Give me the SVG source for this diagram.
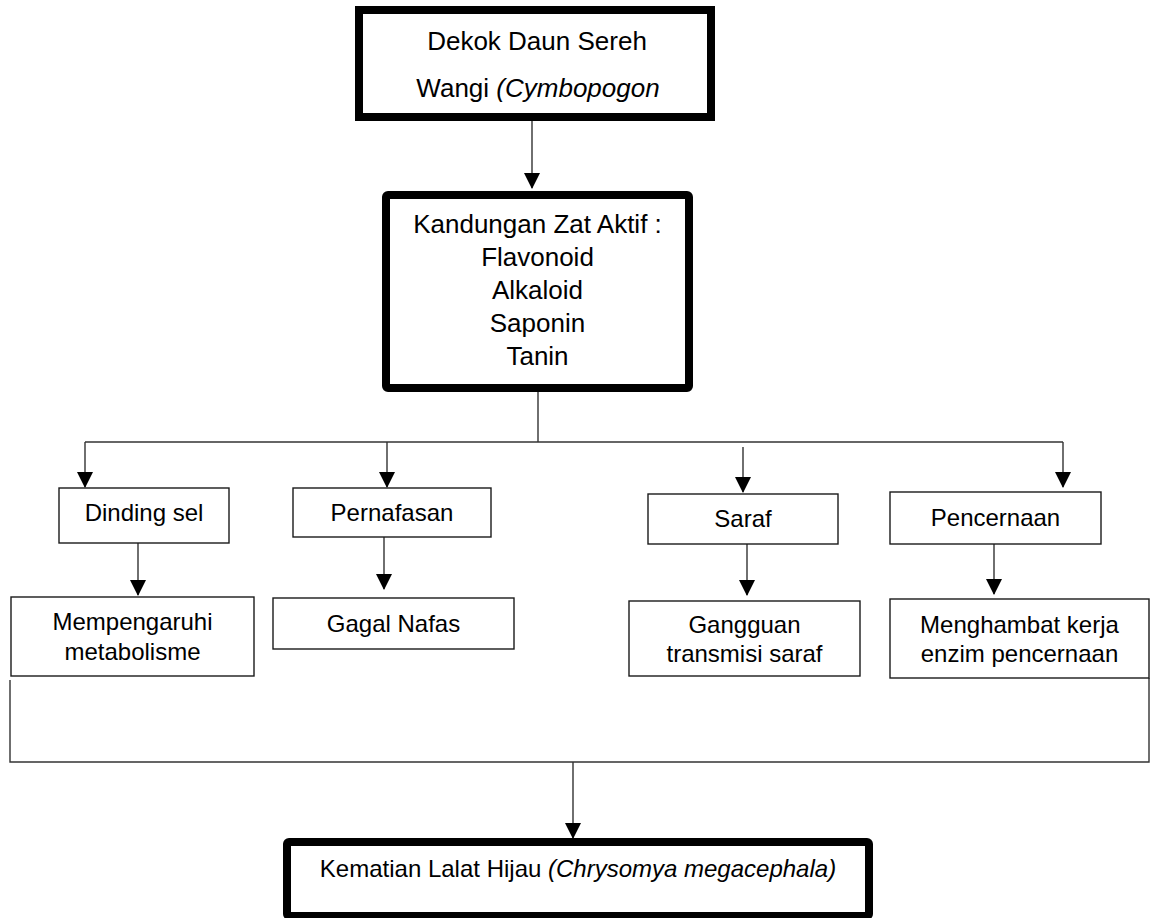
<svg xmlns="http://www.w3.org/2000/svg" width="1152" height="918" viewBox="0 0 1152 918">
<style>
.bg{fill:#fff}
.thick{fill:#fff;stroke:#000;stroke-width:8}
.thin{fill:#fff;stroke:#1a1a1a;stroke-width:1.4}
.c{fill:none;stroke:#333;stroke-width:1.4}
text{font-family:"Liberation Sans",Arial,sans-serif;fill:#000;text-anchor:middle}
.t26{font-size:26px}
.t24{font-size:24px}
.it{font-style:italic}
</style>
<defs>
<marker id="ah" markerUnits="userSpaceOnUse" markerWidth="16" markerHeight="16" refX="15" refY="8" orient="auto" viewBox="0 0 16 16">
<path d="M0,0 L16,8 L0,16 z" fill="#000"/>
</marker>
</defs>
<rect class="bg" x="0" y="0" width="1152" height="918"/>
<g id="connectors">
<path class="c" d="M532,121 V188" marker-end="url(#ah)"/>
<path class="c" d="M538,392 V442"/>
<path class="c" d="M85,442 H1063"/>
<path class="c" d="M85,442 V487" marker-end="url(#ah)"/>
<path class="c" d="M387,442 V487" marker-end="url(#ah)"/>
<path class="c" d="M743,447 V492" marker-end="url(#ah)"/>
<path class="c" d="M1063,442 V487" marker-end="url(#ah)"/>
<path class="c" d="M138,543 V595" marker-end="url(#ah)"/>
<path class="c" d="M384,537 V589" marker-end="url(#ah)"/>
<path class="c" d="M747,544 V595" marker-end="url(#ah)"/>
<path class="c" d="M994,544 V594" marker-end="url(#ah)"/>
<path class="c" d="M10,680 V762 H1149 V678"/>
<path class="c" d="M573,762 V838" marker-end="url(#ah)"/>
</g>
<g id="node-dekok">
<rect class="thick" x="359" y="10" width="352" height="107"/>
<text class="t26" x="537" y="50">Dekok Daun Sereh</text>
<text class="t26" x="538" y="97">Wangi <tspan class="it">(Cymbopogon</tspan></text>
</g>
<g id="node-kandungan">
<rect class="thick" x="386" y="195" width="303" height="193" rx="2"/>
<text class="t26" x="537.5" y="233">Kandungan Zat Aktif :</text>
<text class="t26" x="537.5" y="266">Flavonoid</text>
<text class="t26" x="537.5" y="299">Alkaloid</text>
<text class="t26" x="537.5" y="332">Saponin</text>
<text class="t26" x="537.5" y="365">Tanin</text>
</g>
<g id="node-dinding">
<rect class="thin" x="59" y="488" width="170" height="55"/>
<text class="t24" x="144" y="521">Dinding sel</text>
</g>
<g id="node-mempengaruhi">
<rect class="thin" x="11" y="597" width="243" height="79"/>
<text class="t24" x="132.5" y="630">Mempengaruhi</text>
<text class="t24" x="132.5" y="660">metabolisme</text>
</g>
<g id="node-pernafasan">
<rect class="thin" x="293" y="488" width="198" height="49"/>
<text class="t24" x="392" y="521">Pernafasan</text>
</g>
<g id="node-gagal">
<rect class="thin" x="273" y="598" width="241" height="51"/>
<text class="t24" x="393.5" y="632">Gagal Nafas</text>
</g>
<g id="node-saraf">
<rect class="thin" x="648" y="494" width="190" height="50"/>
<text class="t24" x="743" y="527">Saraf</text>
</g>
<g id="node-gangguan">
<rect class="thin" x="629" y="601" width="231" height="75"/>
<text class="t24" x="744.5" y="633">Gangguan</text>
<text class="t24" x="744.5" y="662">transmisi saraf</text>
</g>
<g id="node-pencernaan">
<rect class="thin" x="890" y="492" width="211" height="52"/>
<text class="t24" x="995.5" y="526">Pencernaan</text>
</g>
<g id="node-menghambat">
<rect class="thin" x="890" y="599" width="259" height="79"/>
<text class="t24" x="1019.5" y="633">Menghambat kerja</text>
<text class="t24" x="1019.5" y="662">enzim pencernaan</text>
</g>
<g id="node-kematian">
<rect class="thick" x="287" y="842" width="582" height="74" rx="2"/>
<text class="t24" x="578" y="877">Kematian Lalat Hijau <tspan class="it">(Chrysomya megacephala)</tspan></text>
</g>
</svg>
